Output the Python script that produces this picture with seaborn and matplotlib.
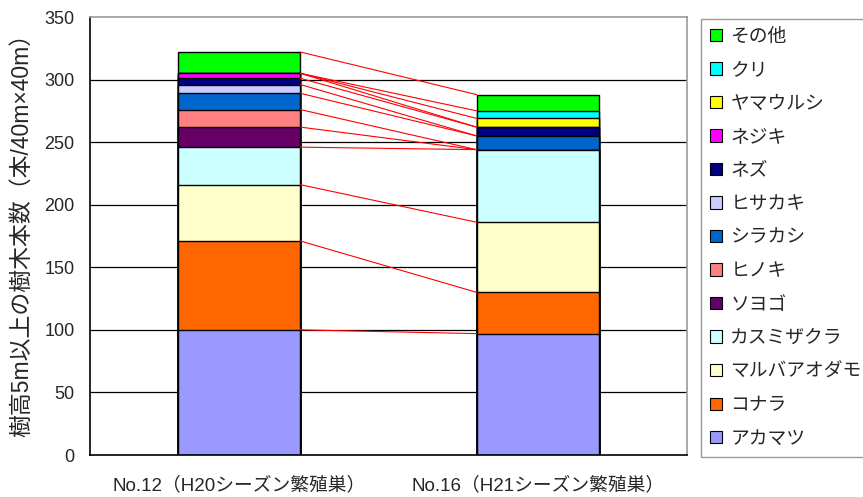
import numpy as np
import pandas as pd
import matplotlib
matplotlib.use("Agg")
import matplotlib.pyplot as plt
import seaborn as sns
from matplotlib.patches import Patch

# Tree counts per nest site (trees taller than 5 m in a 40 m x 40 m plot)
sites = ["No.12（H20シーズン繁殖巣）", "No.16（H21シーズン繁殖巣）"]
species = ["アカマツ", "コナラ", "マルバアオダモ", "カスミザクラ", "ソヨゴ", "ヒノキ",
           "シラカシ", "ヒサカキ", "ネズ", "ネジキ", "ヤマウルシ", "クリ", "その他"]
site12 = [100, 71, 45, 30, 16, 14, 13, 7, 5, 4, 0, 0, 17]
site16 = [97, 33, 56, 58, 0, 0, 11, 0, 7, 0, 7, 6, 13]
colors = ["#9999FF", "#FF6600", "#FFFFCC", "#CCFFFF", "#660066", "#FF8080",
          "#0066CC", "#CCCCFF", "#000080", "#FF00FF", "#FFFF00", "#00FFFF", "#00FF00"]
yticks = [0, 50, 100, 150, 200, 250, 300, 350]

sns.set_theme(style="white")
plt.rcParams["font.family"] = ["Liberation Sans", "Noto Sans CJK JP", "DejaVu Sans"]

fig = plt.figure(figsize=(8.63, 4.97), dpi=100)
ax = fig.add_axes([90 / 863, 1 - 455 / 497, (687 - 90) / 863, (455 - 17) / 497])

cum12 = np.cumsum(site12)
cum16 = np.cumsum(site16)
bar_w = 0.41

# Stacked bars: draw cumulative totals from the top series down
for i in range(len(species) - 1, -1, -1):
    df = pd.DataFrame({"site": sites, "total": [cum12[i], cum16[i]]})
    sns.barplot(data=df, x="site", y="total", color=colors[i], width=bar_w,
                edgecolor="black", linewidth=1.0, saturation=1, ax=ax, zorder=2)

# Series lines connecting the top of each species between the two bars
for i in range(len(species)):
    ax.plot([bar_w / 2, 1 - bar_w / 2], [cum12[i], cum16[i]],
            color="#FF0000", lw=0.8, zorder=3)

ax.set_xlim(-0.5, 1.5)
ax.set_ylim(0, 350)
ax.set_yticks(yticks)
ax.set_yticklabels([str(v) for v in yticks], fontsize=13)
for v in yticks[1:-1]:
    ax.axhline(v, color="black", lw=0.9, zorder=0.5)

ax.set_xticks([0.5, 1.5], minor=False)
ax.set_xticklabels(["", ""])
ax.set_xticks([0, 1], minor=True)
ax.set_xticklabels(sites, minor=True, fontsize=13.5)
ax.tick_params(axis="x", which="minor", length=0, pad=15.5)
ax.tick_params(axis="x", which="major", direction="in", length=4, width=1, color="black")
ax.tick_params(axis="y", direction="in", length=0, pad=11)
ax.set_xlabel("")
ax.set_ylabel("樹高5m以上の樹木本数（本/40m×40m）", fontsize=16.5)
ax.yaxis.set_label_coords(-0.095, 0.515)

for side in ["left", "bottom"]:
    ax.spines[side].set_color("black")
    ax.spines[side].set_linewidth(1.2)
for side in ["top", "right"]:
    ax.spines[side].set_color("#999999")
    ax.spines[side].set_linewidth(1.2)

handles = [Patch(facecolor=colors[i], edgecolor="black", linewidth=0.8, label=species[i])
           for i in range(len(species) - 1, -1, -1)]
leg = fig.legend(handles=handles, loc="upper left",
                 bbox_to_anchor=(701 / 863, 1 - 19 / 497), frameon=True,
                 fontsize=13.5, handlelength=0.62, handleheight=0.62,
                 handletextpad=0.45, labelspacing=0.88, borderpad=0.5,
                 borderaxespad=0, fancybox=False)
leg.get_frame().set_edgecolor("#808080")
leg.get_frame().set_linewidth(1.0)

fig.savefig("out.png", dpi=100)
